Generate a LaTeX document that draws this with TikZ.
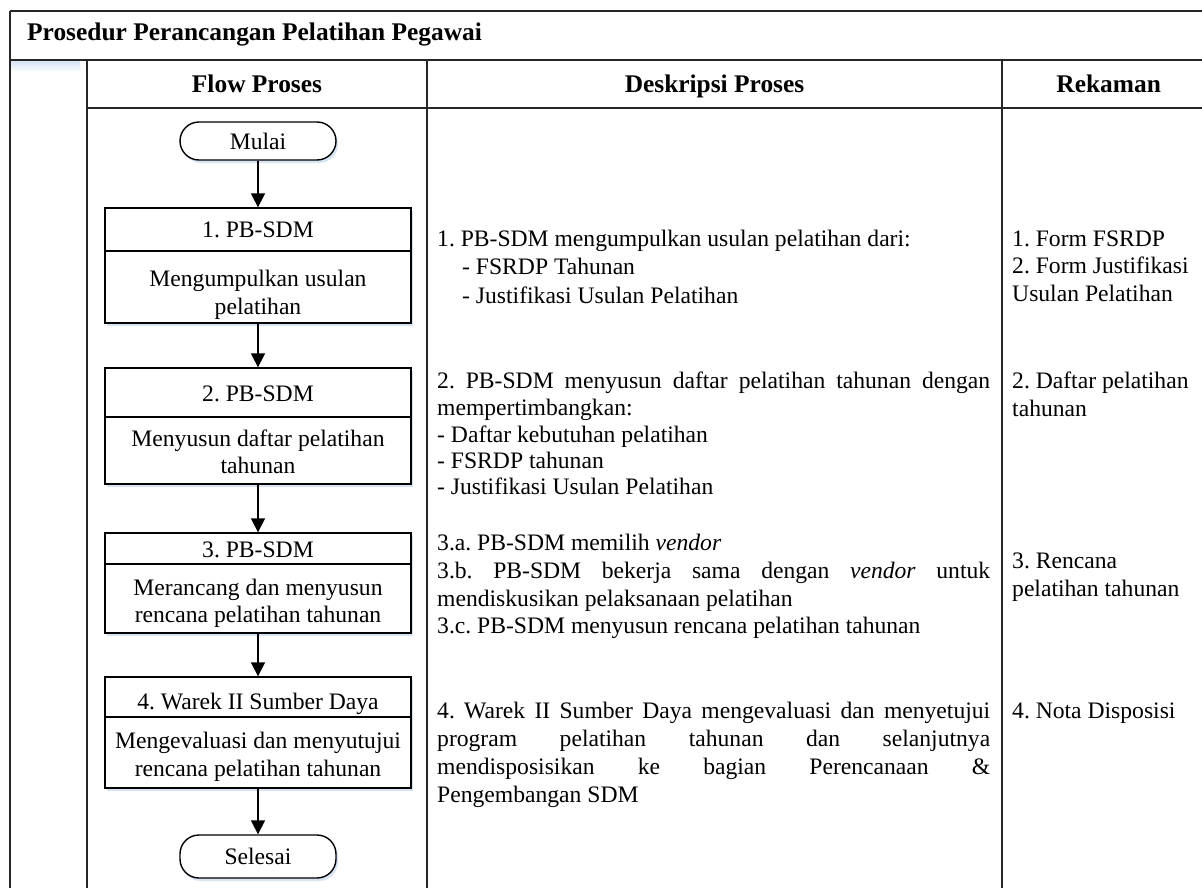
\documentclass[tikz,border=0pt]{standalone}
\usepackage{fontspec}
\setmainfont{Liberation Serif}
\usetikzlibrary{arrows.meta,shadows}

\definecolor{shadowblue}{RGB}{214,228,244}
\newcommand\bodysize{\fontsize{23.7}{28}\selectfont}
\newcommand\headsize{\fontsize{25.5}{30}\selectfont\bfseries}
\newcommand\jline[1]{\makebox[553bp][s]{#1}}
\frenchspacing

\begin{document}
\begin{tikzpicture}[x=1bp,y=-1bp,
  rule/.style={line width=1.6bp, draw=black!85},
  boxshadow/.style={drop shadow={shadow xshift=2bp, shadow yshift=-3bp, fill=shadowblue, opacity=1}},
  stepbox/.style={draw, line width=1.4bp, fill=white, minimum width=306bp, inner sep=0pt, boxshadow},
  terminal/.style={draw, line width=1.4bp, fill=white, rounded corners=19bp, minimum width=156bp, inner sep=0pt, font=\bodysize, boxshadow},
  ctext/.style={anchor=base, inner sep=0pt, font=\bodysize},
  ltext/.style={anchor=base west, inner sep=0pt, font=\bodysize},
  head/.style={anchor=base, inner sep=0pt, font=\headsize},
  flow/.style={line width=1.8bp, -{Triangle[length=14bp,width=14bp]}}
]
\useasboundingbox (0,0) rectangle (1202,888);
\fill[white] (0,0) rectangle (1202,888);

% table frame
\shade[top color=shadowblue, bottom color=white] (11,61) rectangle (80,72);
\draw[rule] (10,11) -- (1202,11);
\draw[rule] (10,11) -- (10,888);
\draw[rule] (10,60) -- (1202,60);
\draw[rule] (87,108) -- (1202,108);
\draw[rule] (87,60) -- (87,888);
\draw[rule] (427,60) -- (427,888);
\draw[rule] (1002,60) -- (1002,888);

% title and column heads
\node[anchor=base west, inner sep=0pt, font=\headsize] (title) at (27,40) {Prosedur Perancangan Pelatihan Pegawai};
\node[head] (hflow) at (257,92) {Flow Proses};
\node[head] (hdesc) at (714.5,92) {Deskripsi Proses};
\node[head] (hrec) at (1108.7,92) {Rekaman};

% flow chart
\node[terminal, minimum height=38bp] (start) at (258,141) {Mulai};
\node[stepbox, minimum height=115bp] (b1) at (258,265.5) {};
\node[stepbox, minimum height=116bp] (b2) at (258,426) {};
\node[stepbox, minimum height=100bp] (b3) at (258,583) {};
\node[stepbox, minimum height=111bp] (b4) at (258,732.5) {};
\node[terminal, minimum height=43bp] (stop) at (258,856.5) {Selesai};

\draw[line width=1.2bp] (b1.west |- 0,251) -- (b1.east |- 0,251);
\draw[line width=1.2bp] (b2.west |- 0,417) -- (b2.east |- 0,417);
\draw[line width=1.2bp] (b3.west |- 0,564) -- (b3.east |- 0,564);
\draw[line width=1.2bp] (b4.west |- 0,717) -- (b4.east |- 0,717);

\node[ctext] (b1h)  at (258,237.7) {1. PB-SDM};
\node[ctext] (b1t1) at (258,286) {Mengumpulkan usulan};
\node[ctext] (b1t2) at (258,314) {pelatihan};
\node[ctext] (b2h)  at (258,401) {2. PB-SDM};
\node[ctext] (b2t1) at (258,446) {Menyusun daftar pelatihan};
\node[ctext] (b2t2) at (258,473.5) {tahunan};
\node[ctext] (b3h)  at (258,557) {3. PB-SDM};
\node[ctext] (b3t1) at (258,595) {Merancang dan menyusun};
\node[ctext] (b3t2) at (258,622) {rencana pelatihan tahunan};
\node[ctext] (b4h)  at (258,709) {4. Warek II Sumber Daya};
\node[ctext] (b4t1) at (258,748) {Mengevaluasi dan menyutujui};
\node[ctext] (b4t2) at (258,776) {rencana pelatihan tahunan};

\draw[flow] (start.south) -- (b1.north);
\draw[flow] (b1.south) -- (b2.north);
\draw[flow] (b2.south) -- (b3.north);
\draw[flow] (b3.south) -- (b4.north);
\draw[flow] (b4.south) -- (stop.north);

% process descriptions
\node[ltext] (d1a) at (437,246.5) {1. PB-SDM mengumpulkan usulan pelatihan dari:};
\node[ltext] (d1b) at (462,274.5) {- FSRDP Tahunan};
\node[ltext] (d1c) at (462,303) {- Justifikasi Usulan Pelatihan};

\node[ltext] (d2a) at (437,388) {\jline{2. PB-SDM menyusun daftar pelatihan tahunan dengan}};
\node[ltext] (d2b) at (437,415) {mempertimbangkan:};
\node[ltext] (d2c) at (437,442) {- Daftar kebutuhan pelatihan};
\node[ltext] (d2d) at (437,468) {- FSRDP tahunan};
\node[ltext] (d2e) at (437,494) {- Justifikasi Usulan Pelatihan};

\node[ltext] (d3a) at (437,550) {3.a. PB-SDM memilih \textit{vendor}};
\node[ltext] (d3b) at (437,578) {\jline{3.b. PB-SDM bekerja sama dengan \textit{vendor} untuk}};
\node[ltext] (d3c) at (437,606) {mendiskusikan pelaksanaan pelatihan};
\node[ltext] (d3d) at (437,633) {3.c. PB-SDM menyusun rencana pelatihan tahunan};

\node[ltext] (d4a) at (437,718) {\jline{4. Warek II Sumber Daya mengevaluasi dan menyetujui}};
\node[ltext] (d4b) at (437,746) {\jline{program pelatihan tahunan dan selanjutnya}};
\node[ltext] (d4c) at (437,774) {\jline{mendisposisikan ke bagian Perencanaan \&}};
\node[ltext] (d4d) at (437,802) {Pengembangan SDM};

% records
\node[ltext] (r1a) at (1012,246) {1. Form FSRDP};
\node[ltext] (r1b) at (1012,273) {2. Form Justifikasi};
\node[ltext] (r1c) at (1012,301) {Usulan Pelatihan};
\node[ltext] (r2a) at (1012,388) {2. Daftar pelatihan};
\node[ltext] (r2b) at (1012,416) {tahunan};
\node[ltext] (r3a) at (1012,568) {3. Rencana};
\node[ltext] (r3b) at (1012,596) {pelatihan tahunan};
\node[ltext] (r4a) at (1012,718) {4. Nota Disposisi};
\end{tikzpicture}
\end{document}
